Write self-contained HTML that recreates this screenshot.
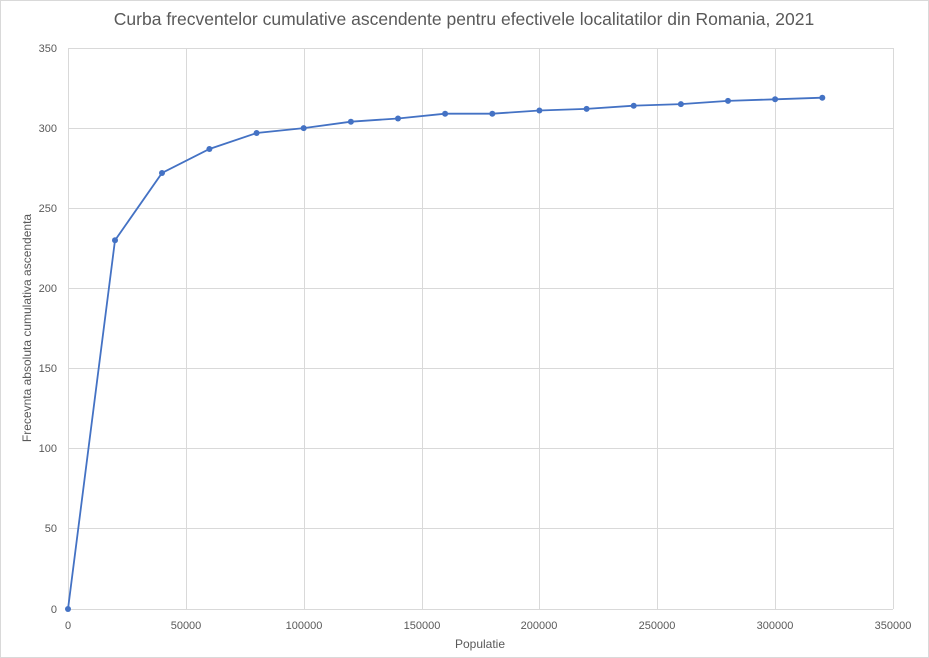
<!DOCTYPE html>
<html><head><meta charset="utf-8"><style>
body{margin:0;background:#fff;}
svg{display:block;font-family:"Liberation Sans",sans-serif;}
</style></head><body>
<svg width="929" height="658" viewBox="0 0 929 658" xmlns="http://www.w3.org/2000/svg">
<rect x="0.5" y="0.5" width="928" height="657" fill="#fff" stroke="#d9d9d9"/>
<text x="464" y="25" text-anchor="middle" font-size="17.5" fill="#595959">Curba frecventelor cumulative ascendente pentru efectivele localitatilor din Romania, 2021</text>
<g stroke="#d9d9d9" stroke-width="1">
<line x1="68" y1="48.5" x2="893" y2="48.5"/>
<line x1="68" y1="128.5" x2="893" y2="128.5"/>
<line x1="68" y1="208.5" x2="893" y2="208.5"/>
<line x1="68" y1="288.5" x2="893" y2="288.5"/>
<line x1="68" y1="368.5" x2="893" y2="368.5"/>
<line x1="68" y1="448.5" x2="893" y2="448.5"/>
<line x1="68" y1="528.5" x2="893" y2="528.5"/>
<line x1="68" y1="609.5" x2="893" y2="609.5"/>
<line x1="68.5" y1="48" x2="68.5" y2="609"/>
<line x1="186.5" y1="48" x2="186.5" y2="609"/>
<line x1="304.5" y1="48" x2="304.5" y2="609"/>
<line x1="422.5" y1="48" x2="422.5" y2="609"/>
<line x1="539.5" y1="48" x2="539.5" y2="609"/>
<line x1="657.5" y1="48" x2="657.5" y2="609"/>
<line x1="775.5" y1="48" x2="775.5" y2="609"/>
<line x1="893.5" y1="48" x2="893.5" y2="609"/>
</g>
<g font-size="11" fill="#595959" text-anchor="end">
<text x="57" y="52">350</text><text x="57" y="132">300</text><text x="57" y="212">250</text>
<text x="57" y="292">200</text><text x="57" y="372">150</text><text x="57" y="452">100</text>
<text x="57" y="532">50</text><text x="57" y="613">0</text>
</g>
<g font-size="11" fill="#595959" text-anchor="middle">
<text x="68" y="629">0</text><text x="186" y="629">50000</text><text x="304" y="629">100000</text>
<text x="422" y="629">150000</text><text x="539" y="629">200000</text><text x="657" y="629">250000</text>
<text x="775" y="629">300000</text><text x="893" y="629">350000</text>
</g>
<text x="480" y="648" text-anchor="middle" font-size="12" fill="#595959">Populatie</text>
<text transform="translate(31,328) rotate(-90)" text-anchor="middle" font-size="12" fill="#595959">Frecevnta absoluta cumulativa ascendenta</text>
<polyline fill="none" stroke="#4472c4" stroke-width="1.8" points="68,609 115,240.3 162,173 209.4,149 256.6,133 303.7,128.1 350.9,121.7 398,118.5 445.1,113.7 492.3,113.7 539.4,110.5 586.6,108.9 633.7,105.7 680.9,104.1 728,100.9 775.1,99.3 822.3,97.7"/>
<g fill="#4472c4">
<circle cx="68" cy="609" r="3"/><circle cx="115" cy="240.3" r="3"/><circle cx="162" cy="173" r="3"/>
<circle cx="209.4" cy="149" r="3"/><circle cx="256.6" cy="133" r="3"/><circle cx="303.7" cy="128.1" r="3"/>
<circle cx="350.9" cy="121.7" r="3"/><circle cx="398" cy="118.5" r="3"/><circle cx="445.1" cy="113.7" r="3"/>
<circle cx="492.3" cy="113.7" r="3"/><circle cx="539.4" cy="110.5" r="3"/><circle cx="586.6" cy="108.9" r="3"/>
<circle cx="633.7" cy="105.7" r="3"/><circle cx="680.9" cy="104.1" r="3"/><circle cx="728" cy="100.9" r="3"/>
<circle cx="775.1" cy="99.3" r="3"/><circle cx="822.3" cy="97.7" r="3"/>
</g>
</svg>
</body></html>
